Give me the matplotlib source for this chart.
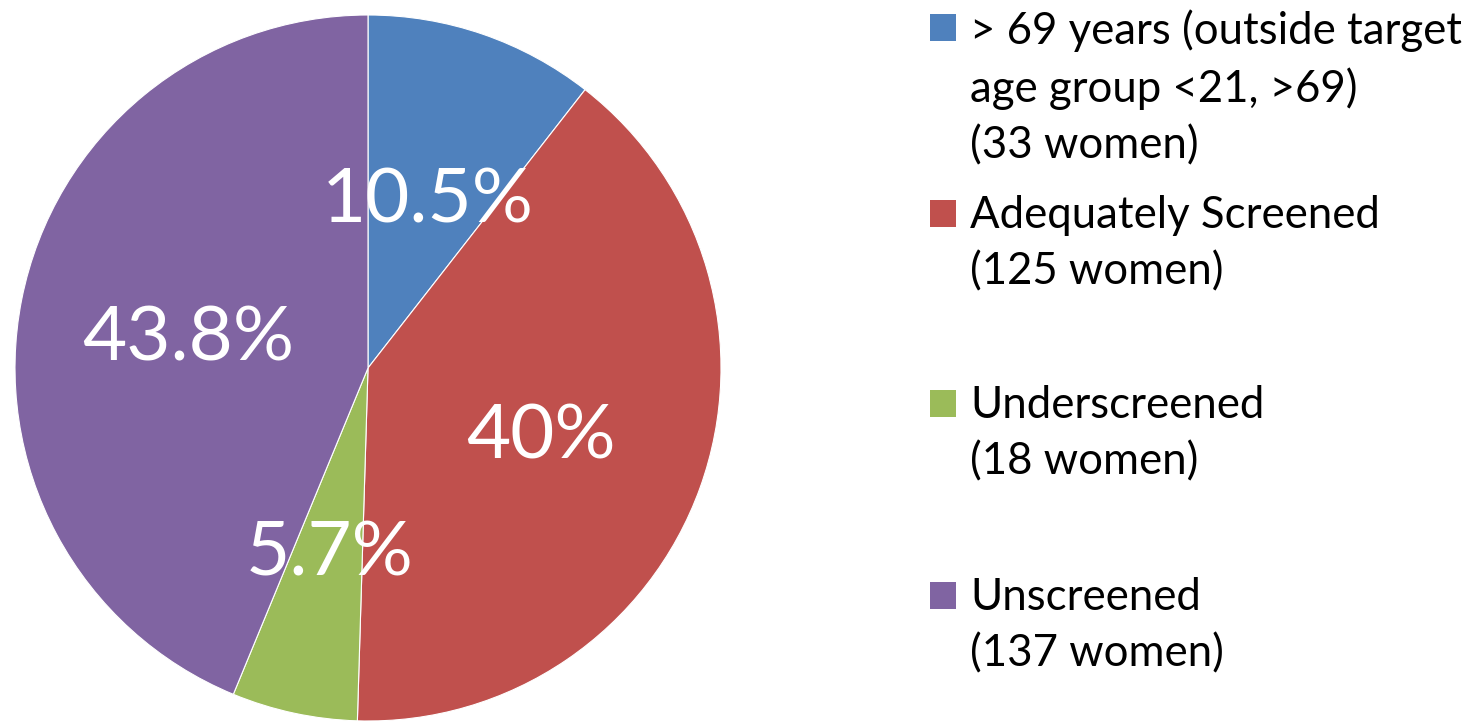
import numpy as np
import matplotlib
matplotlib.use("Agg")
import matplotlib.pyplot as plt
from matplotlib.patches import Rectangle

plt.rcParams['font.family'] = ['Lato', 'DejaVu Sans']

# Screening status of women in the audit
categories = ["> 69 years (outside target\nage group <21, >69)\n(33 women)",
              "Adequately Screened\n(125 women)",
              "Underscreened\n(18 women)",
              "Unscreened\n(137 women)"]
counts = [33, 125, 18, 137]
pct_labels = ["10.5%", "40%", "5.7%", "43.8%"]
colors = ["#4F81BD", "#C0504D", "#9BBB59", "#8064A2"]

fig = plt.figure(figsize=(14.74, 7.21), dpi=100)
ax = fig.add_axes([15 / 1474, 0 / 721, 706 / 1474, 706 / 721])

lab_iter = iter(pct_labels)
wedges, texts, autotexts = ax.pie(counts, colors=colors, startangle=90, counterclock=False,
                                  autopct=lambda p: next(lab_iter), pctdistance=0.52,
                                  wedgeprops=dict(edgecolor='white', linewidth=0.8))
for t in autotexts:
    t.set_color('white')
    t.set_fontsize(55)
    t.set_va('center_baseline')
ax.set_aspect('equal')
ax.set_xlim(-1, 1)
ax.set_ylim(-1, 1)

# legend drawn by hand so the uneven Excel spacing can be kept
entry_tops = [14, 200, 390, 582]
for top, lab, col in zip(entry_tops, categories, colors):
    fig.patches.append(Rectangle((930 / 1474, 1 - (top + 27) / 721), 26 / 1474, 27 / 721,
                                 transform=fig.transFigure, facecolor=col, edgecolor='none'))
    fig.text(970 / 1474, 1 - (top - 5) / 721, lab, fontsize=31.5, va='top', ha='left',
             linespacing=1.46, color='black')

fig.savefig("out.png", dpi=100)
